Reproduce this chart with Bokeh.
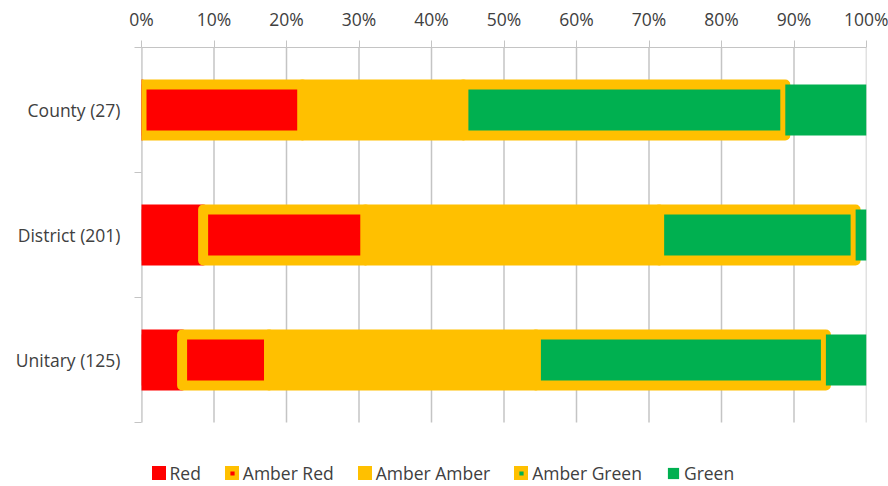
from bokeh.plotting import figure
from bokeh.models import (ColumnDataSource, Range1d, FixedTicker, Legend, LegendItem)
from bokeh.transform import stack
from bokeh.embed import file_html
from bokeh.resources import INLINE

# ---- data (percent of each category) ----
categories = ["County (27)", "District (201)", "Unitary (125)"]
series = ["Red", "Amber Red", "Amber Amber", "Amber Green", "Green"]
red = [0.0, 8.5, 5.6]
amber_red = [22.2, 22.4, 12.0]
amber_amber = [22.2, 40.5, 36.8]
amber_green = [44.4, 27.1, 40.0]
green = [11.2, 1.5, 5.6]
x_ticks = [0, 10, 20, 30, 40, 50, 60, 70, 80, 90, 100]
tick_labels = ["0%", "10%", "20%", "30%", "40%", "50%", "60%", "70%", "80%", "90%", "100%"]

# ---- styles ----
RED = "#FF0000"
AMBER = "#FFC000"
GREEN = "#00B050"
fills = [RED, RED, AMBER, GREEN, GREEN]
lines = [RED, AMBER, AMBER, AMBER, None]
FONT = "Open Sans"
TXT = "#404040"
GRID = "#C4C4C4"

W, H = 888, 486
TOP, LEFT, RIGHT = 47, 141, 22
PLOT_BOTTOM = 422          # bottom of the bar area in pixels
n = len(categories)
px_per_unit = (PLOT_BOTTOM - TOP) / n
y_low = -(H - PLOT_BOTTOM) / px_per_unit   # extra room below for the legend

ypos = [n - i - 0.5 for i in range(n)]
keys = ["s%d" % k for k in range(len(series))]
data = dict(y=ypos)
for k, vals in zip(keys, [red, amber_red, amber_amber, amber_green, green]):
    data[k] = vals
src = ColumnDataSource(data)

p = figure(width=W, height=H, output_backend="svg", toolbar_location=None,
           x_range=Range1d(0, 100), y_range=Range1d(y_low, n),
           x_axis_location="above",
           min_border_left=LEFT, min_border_right=RIGHT, min_border_top=TOP, min_border_bottom=0)
p.outline_line_color = None
p.background_fill_color = "white"
p.border_fill_color = "white"
p.xgrid.visible = False
p.ygrid.visible = False

# vertical gridlines limited to the bar area
p.segment(x0=x_ticks, y0=[0] * len(x_ticks), x1=x_ticks, y1=[n] * len(x_ticks),
          line_color=GRID, line_width=1.5)
# left axis line limited to the bar area
p.segment(x0=[0], y0=[0], x1=[0], y1=[n], line_color=GRID, line_width=2)

BAR_H = 0.408
for k in range(len(series)):
    lc = lines[k]
    p.hbar(y="y", left=stack(*keys[:k]), right=stack(*keys[:k + 1]), height=BAR_H,
           source=src, fill_color=fills[k], line_color=lc,
           line_width=(10 if lc else 0), line_join="round")

# legend proxies (hidden renderers, used only for the legend swatches)
items = []
for k, name in enumerate(series):
    lc = lines[k]
    r = p.hbar(y="y", left=stack(*keys[:k]), right=stack(*keys[:k + 1]), height=BAR_H,
               source=src, fill_color=fills[k], line_color=lc,
               line_width=(7 if lc else 0), line_join="round", visible=False)
    items.append(LegendItem(label=name, renderers=[r]))

# x axis (top)
xa = p.xaxis[0]
xa.ticker = FixedTicker(ticks=x_ticks)
xa.major_label_overrides = {t: l for t, l in zip(x_ticks, tick_labels)}
xa.axis_line_color = GRID
xa.major_tick_line_color = GRID
xa.major_tick_out = 7
xa.major_tick_in = 0
xa.minor_tick_line_color = None
xa.major_label_standoff = 10
xa.major_label_text_font = FONT
xa.major_label_text_font_size = "17.5px"
xa.major_label_text_color = TXT

# y axis (left)
ya = p.yaxis[0]
ya.ticker = FixedTicker(ticks=ypos, minor_ticks=list(range(n + 1)))
ya.major_label_overrides = {y: c for y, c in zip(ypos, categories)}
ya.axis_line_color = None
ya.major_tick_line_color = None
ya.major_tick_out = 0
ya.major_tick_in = 0
ya.minor_tick_line_color = GRID
ya.minor_tick_out = 7
ya.minor_tick_in = 0
ya.major_label_standoff = 14
ya.major_label_text_font = FONT
ya.major_label_text_font_size = "17.5px"
ya.major_label_text_color = TXT

legend = Legend(items=items, orientation="horizontal", location=(10.5, 1),
                glyph_width=14, glyph_height=14, label_standoff=4, spacing=24,
                padding=0, margin=0, border_line_color=None, background_fill_alpha=0,
                inactive_fill_alpha=0,
                label_text_font=FONT, label_text_font_size="17.5px", label_text_color=TXT)
p.add_layout(legend)

open("out.html", "w").write(file_html(p, INLINE))
